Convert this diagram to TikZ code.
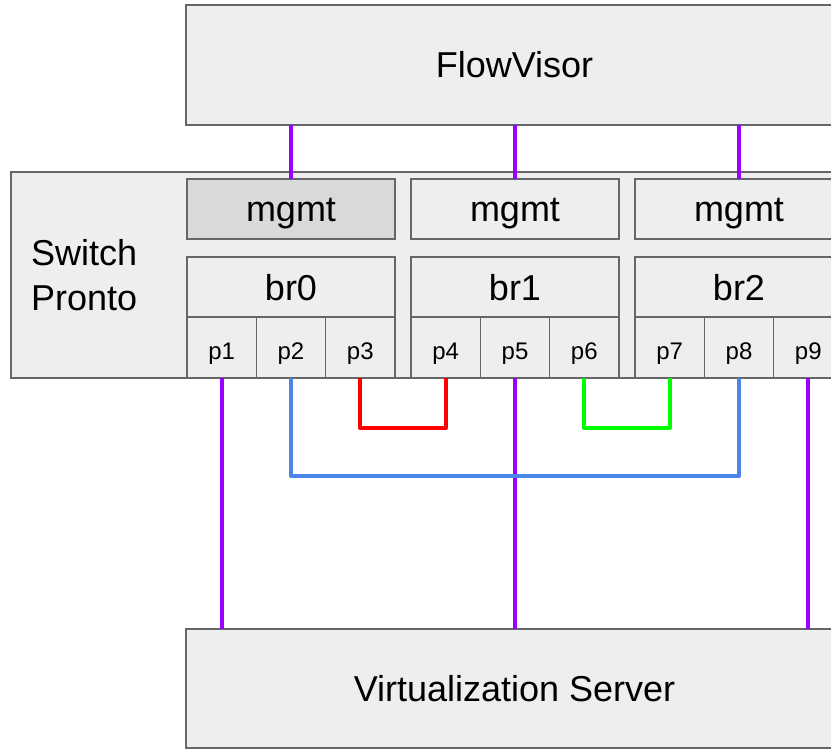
\documentclass[tikz,border=0pt]{standalone}
\usepackage{fontspec}
\setmainfont{Liberation Sans}
\usetikzlibrary{positioning}
\definecolor{boxline}{HTML}{666666}
\definecolor{boxfill}{HTML}{EEEEEE}
\definecolor{mgfill}{HTML}{D9D9D9}
\definecolor{vpurple}{HTML}{9900FF}
\definecolor{vblue}{HTML}{4A86E8}
\definecolor{vred}{HTML}{FF0000}
\definecolor{vgreen}{HTML}{00FF00}
\begin{document}
\begin{tikzpicture}[x=1pt,y=-1pt,
  box/.style={draw=boxline,fill=boxfill,line width=1.3pt,inner sep=0pt,outer sep=0pt,
    text height=26pt,text depth=0pt,font=\fontsize{36}{45}\selectfont},
  wide/.style={box,minimum width=208pt,minimum height=60pt},
  port/.style={box,minimum width=69.3pt,minimum height=61pt,text height=23pt,font=\fontsize{24}{28}\selectfont},
  link/.style={line width=4pt,line join=round}]
  \useasboundingbox (0,0) rectangle (831,749);
  \clip (0,0) rectangle (831,749);
  \node[box,minimum width=657pt,minimum height=120pt] (fv) at (514.5,65) {FlowVisor};
  \node[box,minimum width=860pt,minimum height=206pt] (sw) at (441,275) {};
  \node[right=20pt of sw.west,inner sep=0pt,align=left,font=\fontsize{36}{45}\selectfont] (swl) {Switch\\Pronto};
  % bridges
  \foreach \i in {0,1,2} {
    \pgfmathsetmacro\bx{291+224*\i}
    \node[wide] (mg\i) at (\bx,209) {mgmt};
    \node[wide] (br\i) at (\bx,287) {br\i};
  }
  \node[wide,fill=mgfill] (mg0) at (291,209) {mgmt};
  % ports
  \foreach \j in {1,...,9} {
    \pgfmathsetmacro\px{221.7+224*int((\j-1)/3)+69.3*mod(\j-1,3)}
    \node[port] (p\j) at (\px,347.5) {p\j};
  }
  \node[box,minimum width=657pt,minimum height=119pt] (vs) at (514.5,688.5) {Virtualization Server};
  % links
  \foreach \i in {0,1,2}
    \draw[link,vpurple] (mg\i.north) -- (mg\i.north |- fv.south);
  \foreach \j in {1,5,9}
    \draw[link,vpurple] (p\j.south) -- (p\j.south |- vs.north);
  \draw[link,vblue] (p2.south) -- ++(0,98) -| (p8.south);
  \draw[link,vred] (p3.south) -- ++(0,50) -| (p4.south);
  \draw[link,vgreen] (p6.south) -- ++(0,50) -| (p7.south);
\end{tikzpicture}
\end{document}
